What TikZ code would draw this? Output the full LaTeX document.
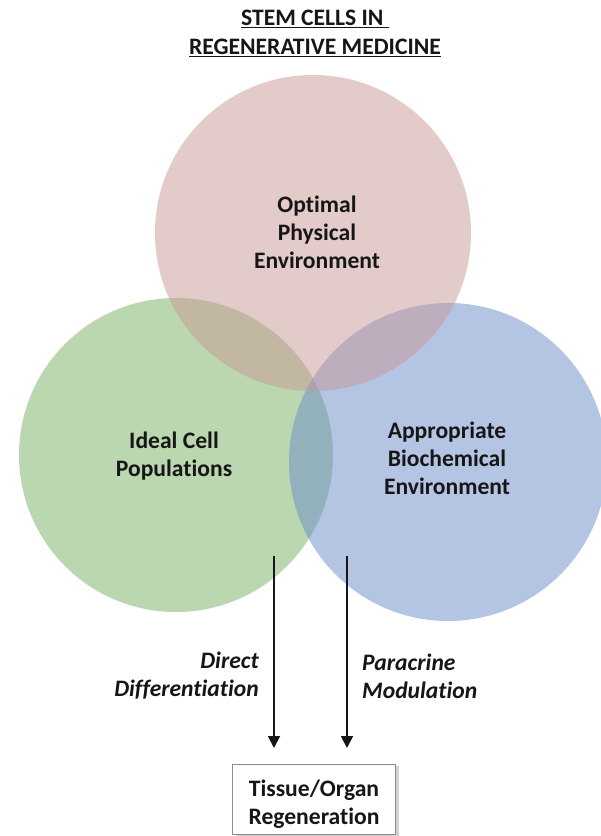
\documentclass[tikz,border=0pt]{standalone}
\usepackage{fontspec}
\setmainfont[Ligatures=NoCommon]{Carlito}
\usetikzlibrary{arrows.meta,shadows}
\definecolor{pinkc}{RGB}{201,153,151}
\definecolor{greenc}{RGB}{121,177,97}
\definecolor{bluec}{RGB}{107,141,203}
\definecolor{inkc}{RGB}{22,22,22}
\tikzset{
  venn/.style={fill opacity=0.5, draw=none},
  lbl/.style={font=\fontsize{23.6}{28}\selectfont\bfseries, text=inkc, align=center, inner sep=0pt},
  path lbl/.style={font=\fontsize{23.6}{28}\selectfont\bfseries\itshape, text=inkc, inner sep=0pt},
  flow/.style={draw=inkc, line width=1.8pt, -{Triangle[length=12pt,width=12pt]}},
  outcome/.style={draw=black!45, line width=1pt, fill=white, minimum width=163pt, minimum height=70pt,
    drop shadow={shadow xshift=3pt, shadow yshift=-2pt, opacity=0.35}}
}
\begin{document}
\begin{tikzpicture}[x=1pt,y=-1pt]
  \useasboundingbox (0,0) rectangle (601,836);
  \fill[white] (0,0) rectangle (601,836);

  % title
  \node[lbl, font=\fontsize{23.6}{29}\selectfont\bfseries] (title) at (315,33.5)
    {\underline{STEM CELLS IN\ }\\ \underline{REGENERATIVE MEDICINE}};

  % three overlapping circles
  \fill[venn, greenc] (176,455) circle[radius=157];
  \fill[venn, bluec] (448,462) circle[radius=159];
  \fill[venn, pinkc] (313,233) circle[radius=158];

  % circle labels
  \node[lbl] (phys) at (317,232) {Optimal\\Physical\\Environment};
  \node[lbl] (cells) at (174,456) {Ideal Cell\\Populations};
  \node[lbl] (bio) at (447,458) {Appropriate\\Biochemical\\Environment};

  % outcome box and its text
  \node[outcome] (regen) at (314,799) {};
  \node[lbl] (regentext) at (314,804) {Tissue/Organ\\Regeneration};

  % pathways
  \coordinate (dstart) at (274,556);
  \coordinate (dend) at (274,748);
  \coordinate (pstart) at (347,556);
  \coordinate (pend) at (347,748);
  \draw[flow] (dstart) -- (dend);
  \draw[flow] (pstart) -- (pend);

  \node[path lbl, anchor=east, align=right] (direct) at (259,676) {Direct\\Differentiation};
  \node[path lbl, anchor=west, align=left] (para) at (362,676) {Paracrine\\Modulation};
\end{tikzpicture}
\end{document}
